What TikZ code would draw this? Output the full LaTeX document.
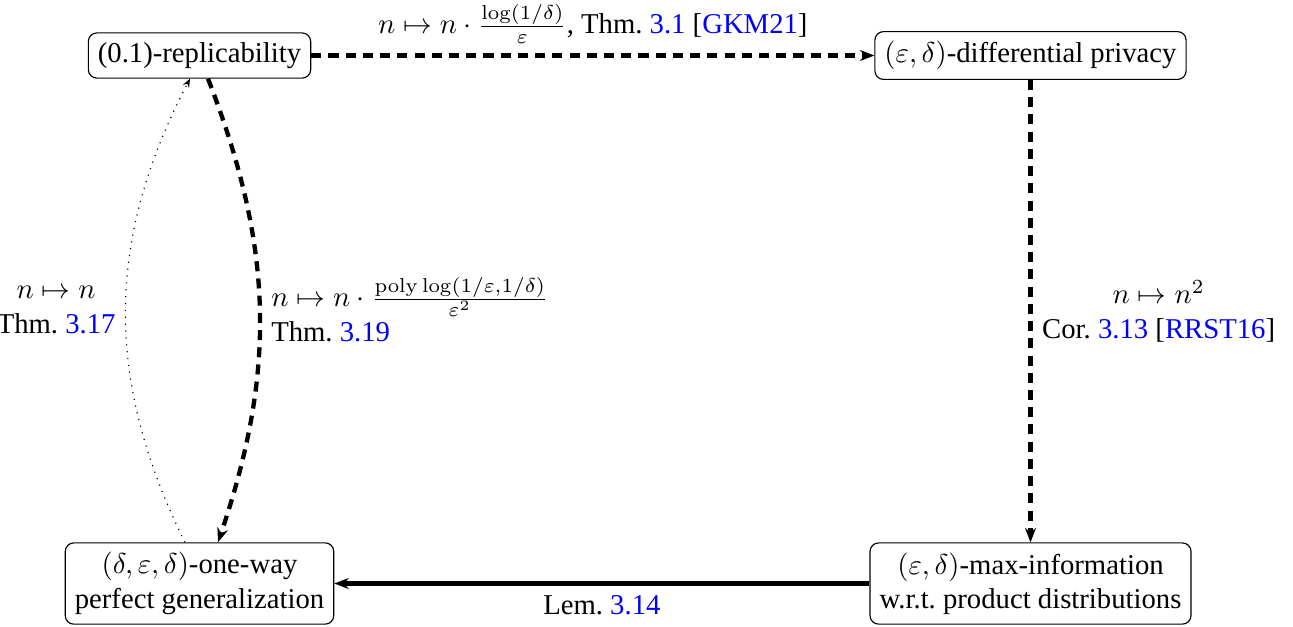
\documentclass[tikz,border=0pt]{standalone}
\usepackage[no-math]{fontspec}
\newfontfamily\fa{Liberation Serif}
\newfontfamily\fb{DejaVu Serif}
\newfontfamily\fc{Liberation Sans}
\usetikzlibrary{arrows.meta,calc}
\begin{document}
\begin{tikzpicture}[x=0.3484pt,y=-0.3484pt,
  box/.style={draw, rounded corners=3pt, align=center, inner sep=3.33pt},
  thickdash/.style={line width=1.5pt, dash pattern=on 3.5pt off 2.5pt, -{Stealth[length=5pt,width=3.8pt,inset=1.6pt]}},
  solidarrow/.style={line width=1.5pt, -{Stealth[length=5pt,width=3.8pt,inset=1.6pt]}},
  dotarrow/.style={dotted, thin, -{Stealth[length=3pt,width=2.4pt,inset=1pt]}}]
\useasboundingbox (0,0) rectangle (1293,626);
\newcommand{\lnk}[1]{\textcolor{blue}{#1}}
\node[box] (rep) at (199.5,55.5) {\fa (0.1)-replicability};
\node[box] (dp) at (1030.5,55.5) {\fa $(\varepsilon,\delta)$-differential privacy};
\node[box] (owpg) at (199.5,583.5) {\fa $(\delta,\varepsilon,\delta)$-one-way\\\fa perfect generalization};
\node[box] (mi) at (1030.5,583.5) {\fa $(\varepsilon,\delta)$-max-information\\\fa w.r.t.\ product distributions};
\draw[thickdash] (rep.east) -- node[above] (l1) {\fa $n\mapsto n\cdot\frac{\log(1/\delta)}{\varepsilon}$, Thm.~\lnk{3.1} [\lnk{GKM21}]} (dp.west);
\draw[thickdash] (dp.south) -- node[right, align=center] (l2) {\fa $n\mapsto n^2$\\\fa Cor.~\lnk{3.13} [\lnk{RRST16}]} (mi.north);
\draw[solidarrow] (mi.west) -- node[below] (l3) {\fa Lem.~\lnk{3.14}} (owpg.east);
\draw[thickdash] ($(rep.south)+(8.5,0)$) to[bend left=20] node[right, align=left] (l4) {\fa $n\mapsto n\cdot\frac{\mathrm{poly}\log(1/\varepsilon,1/\delta)}{\varepsilon^2}$\\\fa Thm.~\lnk{3.19}} ($(owpg.north)+(18.5,0)$);
\draw[dotarrow] ($(owpg.north)+(-14.5,0)$) to[bend left=27] node[left, align=center] (l5) {\fa $n\mapsto n$\\\fa Thm.~\lnk{3.17}} ($(rep.south)+(-9.5,0)$);
\end{tikzpicture}
\end{document}
